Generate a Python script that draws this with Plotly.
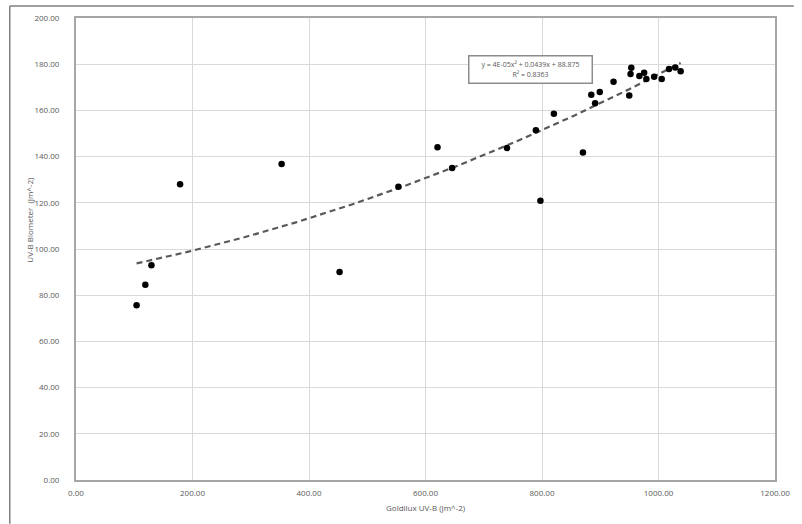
import numpy as np
import plotly.graph_objects as go

# Data
goldilux_uvb = [104, 119, 129.5, 178.7, 353, 452.5, 553.5, 620.6, 645.7, 740,
                789.5, 797.3, 820.4, 870.3, 884.6, 891.2, 899.2, 922.8, 949.8, 952,
                953.3, 967.2, 975.4, 979.2, 992.5, 1005.5, 1018, 1028.8, 1038]
biometer_uvb = [75.7, 84.5, 93.0, 128.0, 136.8, 90.0, 127.0, 144.1, 135.1, 143.7,
                151.4, 120.9, 158.6, 141.8, 166.8, 163.1, 168.0, 172.4, 166.4, 175.8,
                178.5, 174.9, 176.3, 173.6, 174.6, 173.6, 177.9, 178.6, 177.0]
x_ticks = [0, 200, 400, 600, 800, 1000, 1200]
y_ticks = [0, 20, 40, 60, 80, 100, 120, 140, 160, 180, 200]
equation_text = "y = 4E-05x² + 0.0439x + 88.875"
r2_text = "R² = 0.8363"

# Polynomial (order 2) trendline fitted to the data
coeffs = np.polyfit(goldilux_uvb, biometer_uvb, 2)
xt = np.linspace(min(goldilux_uvb), max(goldilux_uvb), 200)
yt = np.polyval(coeffs, xt)

FONT = "Open Sans"
GRAY = "#595959"

fig = go.Figure()
fig.add_trace(go.Scatter(
    x=xt, y=yt, mode="lines",
    line=dict(color="#595959", width=2.2, dash="6px,4px"),
    hoverinfo="skip", showlegend=False))
fig.add_trace(go.Scatter(
    x=goldilux_uvb, y=biometer_uvb, mode="markers",
    marker=dict(color="black", size=6.5),
    showlegend=False))

axis_common = dict(
    showgrid=True, gridcolor="#d9d9d9", gridwidth=1,
    showline=True, linecolor="#a6a6a6", linewidth=2, mirror=True,
    zeroline=False, tickfont=dict(family=FONT, size=8, color=GRAY),
    tickformat=".2f",
)

fig.update_xaxes(range=[0, 1200], tickvals=x_ticks, ticks="outside",
                 ticklen=4, tickcolor="rgba(0,0,0,0)", **axis_common)
fig.update_yaxes(range=[0, 200], tickvals=y_ticks, ticks="outside",
                 ticklen=13, tickcolor="rgba(0,0,0,0)", **axis_common)

annotations = [
    dict(text=equation_text + "<br>" + r2_text, xref="paper", yref="paper",
         x=(535.5 - 76) / 707, y=(480 - 67.5) / 464, showarrow=False,
         xanchor="center", yanchor="middle", align="center",
         font=dict(family=FONT, size=7, color=GRAY),
         bordercolor="#8c8c8c", borderwidth=1.5, borderpad=1, bgcolor="white",
         width=120, height=24),
    dict(text="UV-B Biometer  (Jm^-2)", xref="paper", yref="paper",
         x=(29 - 76) / 707, y=(480 - 219) / 464, showarrow=False,
         textangle=-90, xanchor="center", yanchor="middle",
         font=dict(family=FONT, size=8, color=GRAY)),
    dict(text="Goldilux UV-B (Jm^-2)", xref="paper", yref="paper",
         x=0.5, y=(480 - 508) / 464, showarrow=False,
         xanchor="center", yanchor="middle",
         font=dict(family=FONT, size=8, color=GRAY)),
]

shapes = [
    dict(type="line", xref="paper", yref="paper",
         x0=(9 - 76) / 707, x1=(802 - 76) / 707,
         y0=(480 - 4) / 464, y1=(480 - 4) / 464,
         line=dict(color="#7f7f7f", width=1.5)),
    dict(type="line", xref="paper", yref="paper",
         x0=(9 - 76) / 707, x1=(9 - 76) / 707,
         y0=(480 - 4) / 464, y1=(480 - 524) / 464,
         line=dict(color="#7f7f7f", width=1.5)),
]

fig.update_layout(
    width=802, height=524,
    margin=dict(l=76, r=19, t=16, b=44),
    paper_bgcolor="white", plot_bgcolor="white",
    annotations=annotations, shapes=shapes,
    font=dict(family=FONT, color=GRAY),
)

fig.write_html("out.html")
